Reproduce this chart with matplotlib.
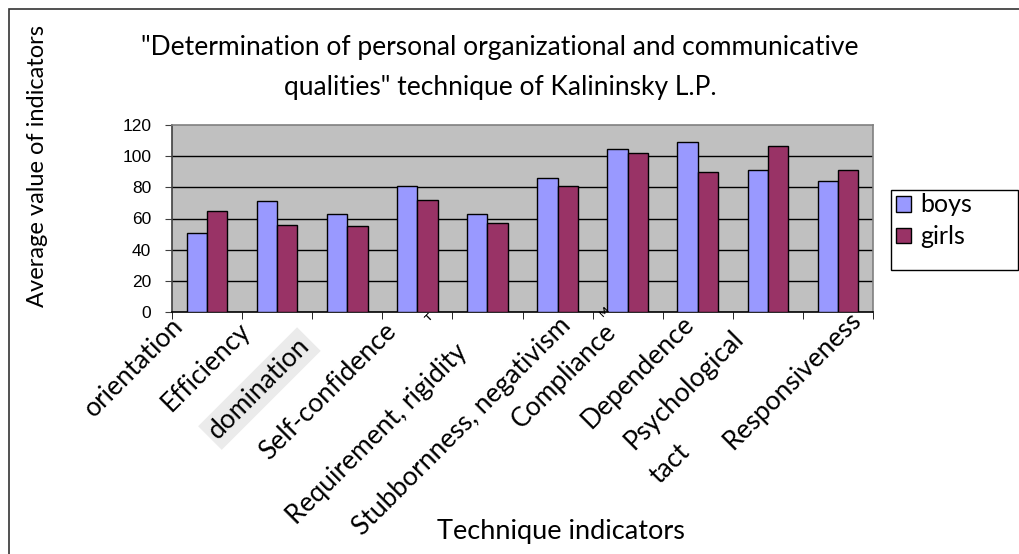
import matplotlib
matplotlib.use("Agg")
import matplotlib.pyplot as plt
from matplotlib.patches import Rectangle
import numpy as np

categories = ["orientation", "Efficiency", "domination", "Self-confidence",
              "Requirement, rigidity", "Stubbornness, negativism", "Compliance",
              "Dependence", "Psychological\ntact", "Responsiveness"]
boys = [51, 71, 63, 81, 63, 86, 104.5, 109, 91, 84]
girls = [65, 56, 55, 72, 57, 81, 102, 90, 106.5, 91]
yticks = [0, 20, 40, 60, 80, 100, 120]

# where each line of the (oddly placed) category labels ends, in data units
label_pos = [[(-0.39, -6.4)], [(0.56, -9.6)], [(1.41, -19.3)], [(2.64, -9.6)],
             [(3.65, -23.1)], [(5.13, -6.4)], [(5.78, -10.3)], [(6.89, -5.1)],
             [(7.6, -14.5), (6.83, -87.3)], [(9.27, -2.6)]]

TXT = ["Lato", "DejaVu Sans"]
NUM = ["Liberation Sans", "DejaVu Sans"]

fig = plt.figure(figsize=(10.2, 5.54), dpi=100)
ax = fig.add_axes([172/1020, 1-312/554, (873-172)/1020, (312-125)/554])
ax.set_facecolor("#C0C0C0")

x = np.arange(len(categories))
w = 0.29
b1 = ax.bar(x - w/2, boys, w, color="#9999FF", edgecolor="black", linewidth=1, label="boys", zorder=3)
b2 = ax.bar(x + w/2, girls, w, color="#993366", edgecolor="black", linewidth=1, label="girls", zorder=3)

ax.set_xlim(-0.5, len(categories) - 0.5)
ax.set_ylim(0, 120)
ax.set_yticks(yticks)
ax.set_yticklabels([str(v) for v in yticks], fontfamily=NUM, fontsize=12.5)
for v in yticks[1:-1]:
    ax.axhline(v, color="black", lw=1, zorder=1)

ax.set_xticks([])
ax.set_xticks(np.arange(-0.5, len(categories)), minor=True)
ax.tick_params(axis="x", which="minor", length=5, direction="out", color="black")
ax.tick_params(axis="y", length=5, direction="out", pad=10, color="#404040")

for s in ["top", "right"]:
    ax.spines[s].set_color("#808080")
ax.spines["left"].set_color("#404040")
ax.spines["bottom"].set_color("black")
for s in ax.spines.values():
    s.set_linewidth(1.2)

for i, lab in enumerate(categories):
    kw = {}
    if lab == "domination":
        kw["bbox"] = dict(facecolor="#EBEBEB", edgecolor="none", pad=3)
    for line, (lx, ly) in zip(lab.split("\n"), label_pos[i]):
        ax.text(lx, ly, line, rotation=45, rotation_mode="anchor",
                ha="right", va="center", fontsize=19, fontfamily=TXT,
                clip_on=False, **kw)

# small stray letters from the original
ax.text(3.07, -6, "т", rotation=45, fontsize=10, fontfamily=TXT, clip_on=False)
ax.text(5.55, -3, "м", rotation=45, fontsize=10, fontfamily=TXT, clip_on=False)

fig.text(500/1020, 1-47/554, "\"Determination of personal organizational and communicative",
         ha="center", va="center", fontsize=19, fontfamily=TXT)
fig.text(500/1020, 1-87/554, "qualities\" technique of Kalininsky L.P.",
         ha="center", va="center", fontsize=19, fontfamily=TXT)
fig.text(38/1020, 1-166/554, "Average value of indicators", rotation=90,
         ha="center", va="center", fontsize=17, fontfamily=TXT)
fig.text(561/1020, 1-532/554, "Technique indicators",
         ha="center", va="center", fontsize=19.5, fontfamily=TXT)

# legend: box drawn separately so it can be wider than its entries
fig.patches.append(Rectangle((891/1020, 1-270/554), 127/1020, 80/554, transform=fig.transFigure,
                             facecolor="white", edgecolor="black", linewidth=1))
leg = fig.legend(handles=[b1, b2], loc="upper left", bbox_to_anchor=(894/1020, 1-191/554),
                 prop={"family": TXT, "size": 18}, frameon=False,
                 handlelength=0.6, handleheight=0.6, handletextpad=0.35,
                 borderpad=0.1, labelspacing=0.35, borderaxespad=0)

# outer frame
fig.patches.append(Rectangle((9/1020, -0.1), 1.2, 1 - 9/554 + 0.1, transform=fig.transFigure,
                             fill=False, edgecolor="#333333", linewidth=1.2))

fig.savefig("out.png", dpi=100)
